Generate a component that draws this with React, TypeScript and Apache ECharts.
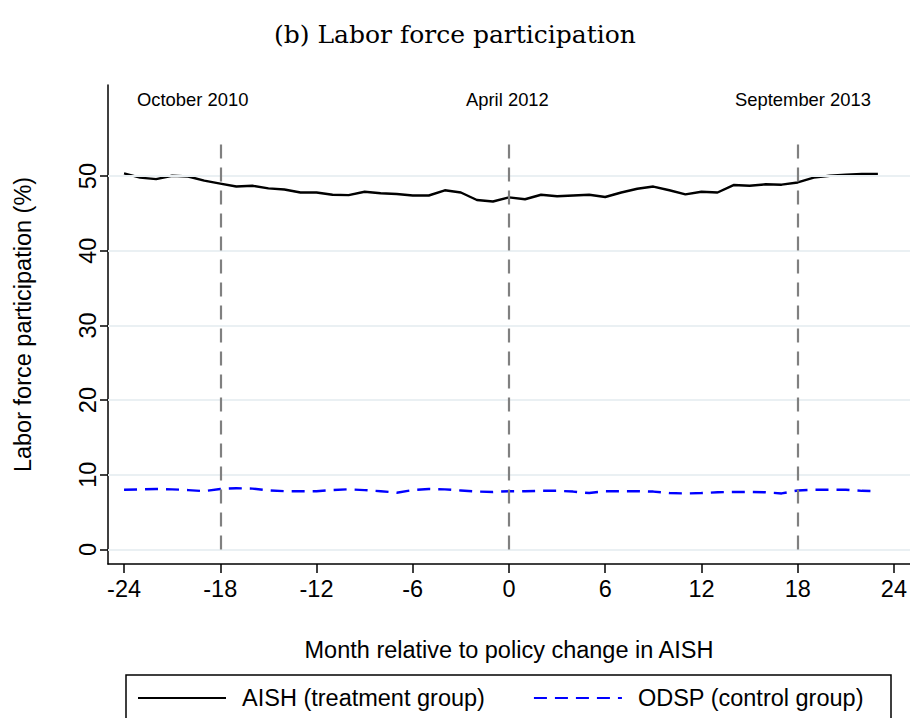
import { useEffect, useRef } from 'react';
import * as echarts from 'echarts';

// months relative to the AISH policy change
const months = [
  -24, -23, -22, -21, -20, -19, -18, -17, -16, -15, -14, -13, -12, -11, -10, -9, -8, -7, -6, -5, -4, -3, -2, -1,
  0, 1, 2, 3, 4, 5, 6, 7, 8, 9, 10, 11, 12, 13, 14, 15, 16, 17, 18, 19, 20, 21, 22, 23,
];

// AISH (treatment group), %
const aish = [
  50.36, 49.8, 49.6, 50.04, 49.95, 49.4, 49.0, 48.6, 48.7, 48.35, 48.2, 47.8, 47.8, 47.5, 47.45, 47.9, 47.7, 47.6,
  47.4, 47.4, 48.1, 47.8, 46.8, 46.6, 47.15, 46.9, 47.5, 47.3, 47.4, 47.5, 47.2, 47.8, 48.3, 48.6, 48.1, 47.55, 47.9,
  47.8, 48.8, 48.7, 48.9, 48.85, 49.15, 49.8, 50.05, 50.2, 50.3, 50.3,
];

// ODSP (control group), %
const odsp = [
  8.0, 8.04, 8.1, 8.05, 7.95, 7.8, 8.1, 8.2, 8.15, 7.9, 7.8, 7.8, 7.8, 7.95, 8.05, 7.95, 7.8, 7.6, 7.95, 8.1, 8.05,
  7.9, 7.75, 7.7, 7.8, 7.8, 7.85, 7.85, 7.75, 7.55, 7.8, 7.8, 7.8, 7.75, 7.55, 7.5, 7.55, 7.65, 7.7, 7.7, 7.65, 7.5,
  7.9, 8.0, 8.0, 8.0, 7.85, 7.8,
];

const xTicks = [-24, -18, -12, -6, 0, 6, 12, 18, 24];
const yTicks = [0, 10, 20, 30, 40, 50];
const eventMonths = [-18, 0, 18];
const eventLabels = ['October 2010', 'April 2012', 'September 2013'];

const SANS = '"Liberation Sans", Arial, Helvetica, sans-serif';

export default function App() {
  const chartRef = useRef<HTMLDivElement>(null);

  useEffect(() => {
    if (!chartRef.current) return;
    const chart = echarts.init(chartRef.current, null, { renderer: 'svg' });

    const pairs = (vals: number[]) => months.map((m, i) => [m, vals[i]]);

    const option: echarts.EChartsOption = {
      animation: false,
      backgroundColor: '#ffffff',
      textStyle: { fontFamily: SANS },
      title: {
        text: '(b) Labor force participation',
        left: 'center',
        top: 17,
        textStyle: {
          fontFamily: '"DejaVu Serif", "Liberation Serif", serif',
          fontWeight: 'normal',
          fontSize: 25,
          color: '#000',
        },
      },
      grid: { left: 108, right: 0, top: 85, bottom: 154 },
      xAxis: {
        type: 'value',
        min: -25,
        max: 25,
        name: 'Month relative to policy change in AISH',
        nameLocation: 'middle',
        nameGap: 74,
        nameTextStyle: { fontSize: 23.5, color: '#000', fontFamily: SANS },
        axisLine: { onZero: false, lineStyle: { color: '#000', width: 1.5 } },
        axisTick: { length: 9, lineStyle: { color: '#000', width: 1.5 }, customValues: xTicks },
        axisLabel: { fontSize: 23.5, color: '#000', margin: 13, customValues: xTicks, fontFamily: SANS },
        splitLine: { show: false },
      },
      yAxis: {
        type: 'value',
        min: -1.95,
        max: 62.2,
        name: 'Labor force participation (%)',
        nameLocation: 'middle',
        nameGap: 73,
        nameTextStyle: { fontSize: 23.5, color: '#000', fontFamily: SANS },
        axisLine: { show: true, onZero: false, lineStyle: { color: '#000', width: 1.5 } },
        axisTick: { show: true, length: 8, lineStyle: { color: '#000', width: 1.5 }, customValues: yTicks },
        axisLabel: { fontSize: 23.5, color: '#000', rotate: 90, margin: 8, customValues: yTicks, fontFamily: SANS },
        splitLine: { show: false },
      },
      legend: {
        data: ['AISH (treatment group)', 'ODSP (control group)'],
        left: 137,
        top: 686,
        padding: 0,
        itemWidth: 88,
        itemHeight: 24,
        itemGap: 48,
        itemStyle: { opacity: 0 },
        textStyle: { fontSize: 23.5, color: '#000', fontFamily: SANS, padding: [0, 0, 0, 11] },
      },
      graphic: [
        {
          type: 'rect',
          shape: { x: 126, y: 675, width: 765, height: 80 },
          style: { fill: 'none', stroke: '#000', lineWidth: 1.5 },
          silent: true,
        },
        {
          type: 'text',
          left: 137,
          top: 90,
          style: { text: eventLabels[0], fontSize: 18.4, fontFamily: SANS, fill: '#000' },
        },
        {
          type: 'text',
          left: 466,
          top: 90,
          style: { text: eventLabels[1], fontSize: 18.4, fontFamily: SANS, fill: '#000' },
        },
        {
          type: 'text',
          left: 735,
          top: 90,
          style: { text: eventLabels[2], fontSize: 18.4, fontFamily: SANS, fill: '#000' },
        },
      ],
      series: [
        {
          name: 'gridlines',
          type: 'line',
          data: [],
          z: 1,
          silent: true,
          markLine: {
            silent: true,
            symbol: 'none',
            label: { show: false },
            lineStyle: { color: '#eaf0f3', width: 2, type: 'solid' },
            data: yTicks.map((v) => ({ yAxis: v })),
          },
        },
        {
          name: 'events',
          type: 'line',
          data: [],
          z: 2,
          silent: true,
          markLine: {
            silent: true,
            symbol: 'none',
            label: { show: false },
            lineStyle: { color: '#808080', width: 2.2, type: [14, 9] },
            data: eventMonths.map((m) => [
              { coord: [m, 0] },
              { coord: [m, 54.7] },
            ]),
          },
        },
        {
          name: 'AISH (treatment group)',
          type: 'line',
          data: pairs(aish),
          symbol: 'none',
          z: 3,
          lineStyle: { color: '#000', width: 2.4 },
          itemStyle: { color: '#000' },
        },
        {
          name: 'ODSP (control group)',
          type: 'line',
          data: pairs(odsp),
          symbol: 'none',
          z: 3,
          lineStyle: { color: '#0000ff', width: 2.4, type: [13, 8] },
          itemStyle: { color: '#0000ff' },
        },
      ],
    };

    chart.setOption(option);
    return () => chart.dispose();
  }, []);

  return (
    <div
      ref={chartRef}
      style={{ position: 'fixed', left: 0, top: 0, width: 910, height: 718, background: '#fff' }}
    />
  );
}
